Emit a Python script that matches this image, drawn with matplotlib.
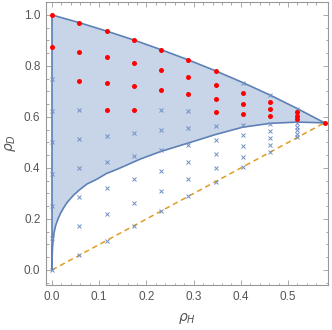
import numpy as np
import matplotlib.pyplot as plt

# column positions (rho_H) of the sample points
col_x = [0.0, 0.0577, 0.1155, 0.1732, 0.2309, 0.2887, 0.3464, 0.4041, 0.4619, 0.5196, 0.5774]

# upper boundary, read at the column positions
upper_y = [1.0, 0.970, 0.937, 0.902, 0.864, 0.824, 0.781, 0.735, 0.686, 0.633, 0.577]

# lower boundary
lower_x = [0.0, 0.0003, 0.001, 0.0025, 0.0045, 0.0075, 0.012, 0.018, 0.025, 0.032, 0.046,
           0.058, 0.074, 0.096, 0.115, 0.138, 0.159, 0.187, 0.231, 0.289, 0.346, 0.404,
           0.462, 0.520, 0.5774]
lower_y = [0.0, 0.05, 0.085, 0.12, 0.148, 0.173, 0.197, 0.222, 0.245, 0.265, 0.294,
           0.314, 0.337, 0.357, 0.378, 0.395, 0.412, 0.435, 0.465, 0.498, 0.531, 0.560,
           0.575, 0.580, 0.577]

# sample points in each column (blue crosses / red dots)
blue_pts = [
    [0.0, 0.125, 0.25, 0.375, 0.5, 0.625, 0.75],
    [0.058, 0.172, 0.286, 0.400, 0.514, 0.628],
    [0.115, 0.218, 0.321, 0.423, 0.526],
    [0.173, 0.264, 0.355, 0.447, 0.538],
    [0.231, 0.310, 0.389, 0.469, 0.548, 0.627],
    [0.289, 0.356, 0.423, 0.489, 0.556, 0.623],
    [0.346, 0.401, 0.455, 0.509, 0.564],
    [0.404, 0.445, 0.487, 0.528, 0.569, 0.735],
    [0.462, 0.490, 0.518, 0.546, 0.574, 0.686],
    [0.520, 0.534, 0.548, 0.562, 0.577, 0.633],
    [],
]
red_pts = [
    [0.875, 1.0],
    [0.742, 0.856, 0.970],
    [0.629, 0.732, 0.835, 0.937],
    [0.629, 0.720, 0.811, 0.902],
    [0.706, 0.785, 0.864],
    [0.690, 0.757, 0.824],
    [0.618, 0.672, 0.727, 0.781],
    [0.611, 0.652, 0.693],
    [0.602, 0.630, 0.658],
    [0.591, 0.605, 0.619],
    [0.577],
]

blue = '#5e81b5'
grey = '#999999'

fig = plt.figure(figsize=(3.32, 3.30), dpi=100)
ax = fig.add_axes([0.1386, 0.1364, 0.8494, 0.8576])

# region between the two curves (closed along rho_H = 0)
px = col_x + lower_x[::-1]
py = upper_y + lower_y[::-1]
ax.fill(px, py, color='#c8d4e8', lw=0, zorder=1)

ax.plot([0, col_x[-1]], [0, col_x[-1]], color='#e19c24', lw=1.1,
        dashes=(3.5, 2.5), zorder=2)
ax.plot(px + [px[0]], py + [py[0]], color=blue, lw=1.2, zorder=3,
        solid_joinstyle='round')

for x, ys in zip(col_x, blue_pts):
    ax.plot([x] * len(ys), ys, ls='none', marker='x', ms=3, mew=0.7,
            color='#7090c4', zorder=4)
for x, ys in zip(col_x, red_pts):
    ax.plot([x] * len(ys), ys, ls='none', marker='o', ms=3.6, mew=0,
            color='#ff0000', zorder=5)

ax.set_xlim(-0.0127, 0.5847)
ax.set_ylim(-0.0588, 1.051)
ax.set_xticks([0.0, 0.1, 0.2, 0.3, 0.4, 0.5])
ax.set_xticklabels(['0.0', '0.1', '0.2', '0.3', '0.4', '0.5'])
ax.set_yticks([0.0, 0.2, 0.4, 0.6, 0.8, 1.0])
ax.set_yticklabels(['0.0', '0.2', '0.4', '0.6', '0.8', '1.0'])
ax.set_xticks(np.arange(0, 0.58, 0.02), minor=True)
ax.set_yticks(np.arange(-0.05, 1.06, 0.05), minor=True)

for s in ax.spines.values():
    s.set_color(grey)
    s.set_linewidth(0.8)
ax.tick_params(which='both', direction='in', top=True, right=True, color=grey,
               labelsize=8.5, labelcolor='#555555', width=0.6)
ax.tick_params(which='major', length=3.5, pad=4)
ax.tick_params(which='minor', length=1.8)
for lab in ax.get_xticklabels() + ax.get_yticklabels():
    lab.set_family('Liberation Sans')

ax.set_xlabel(r'$\rho_H$', fontsize=10, color='#555555', labelpad=6)
ax.set_ylabel(r'$\rho_D$', fontsize=10, color='#555555', labelpad=4)

fig.savefig('out.png', dpi=100)
